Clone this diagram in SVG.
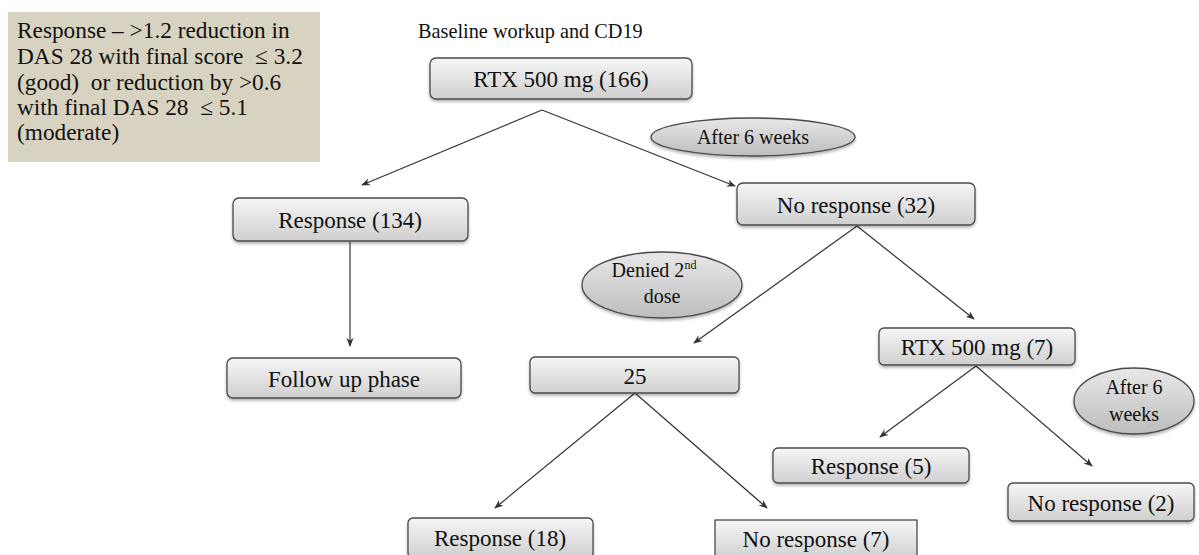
<svg xmlns="http://www.w3.org/2000/svg" width="1199" height="555" viewBox="0 0 1199 555">
<style>
  text { font-family: "Liberation Serif", "Times New Roman", serif; fill: #111; }
  .t { font-size: 23px; text-anchor: middle; dominant-baseline: central; }
  .lg { font-size: 23.3px; white-space: pre; }
  .box { fill: url(#gBox); stroke: #4a4a4a; stroke-width: 1.3; filter: url(#sh); }
  .ell { fill: url(#gEll); stroke: #4a4a4a; stroke-width: 1.3; filter: url(#sh); }
  .c { fill: none; stroke: #333; stroke-width: 1.2; marker-end: url(#ah); }
</style>
<defs>
  <linearGradient id="gBox" x1="0" y1="0" x2="0" y2="1">
    <stop offset="0" stop-color="#f6f6f6"/>
    <stop offset="1" stop-color="#cfcfcf"/>
  </linearGradient>
  <linearGradient id="gEll" x1="0" y1="0" x2="0" y2="1">
    <stop offset="0" stop-color="#e8e8e8"/>
    <stop offset="1" stop-color="#bdbdbd"/>
  </linearGradient>
  <filter id="sh" x="-10%" y="-20%" width="120%" height="150%">
    <feDropShadow dx="0" dy="2" stdDeviation="1.5" flood-color="#000" flood-opacity="0.3"/>
  </filter>
  <marker id="ah" viewBox="0 0 10 10" refX="9" refY="5" markerWidth="9" markerHeight="9" orient="auto" markerUnits="userSpaceOnUse">
    <path d="M0,1 L10,5 L0,9 L3,5 Z" fill="#333"/>
  </marker>
</defs>

<g id="legend">
  <rect x="8" y="12" width="312" height="150" fill="#d8d3c0"/>
  <text class="lg" x="17" y="38">Response – &gt;1.2 reduction in</text>
  <text class="lg" x="17" y="64">DAS 28 with final score  ≤ 3.2</text>
  <text class="lg" x="17" y="90">(good)  or reduction by &gt;0.6</text>
  <text class="lg" x="17" y="115">with final DAS 28  ≤ 5.1</text>
  <text class="lg" x="17" y="140">(moderate)</text>
</g>

<g id="title">
  <text x="418" y="38" style="font-size:20.3px">Baseline workup and CD19</text>
</g>

<g id="connectors">
  <polyline class="c" points="542,110 362,185"/>
  <polyline class="c" points="542,110 735,186"/>
  <line class="c" x1="350" y1="242" x2="350" y2="346"/>
  <polyline class="c" points="857,226 694,343"/>
  <polyline class="c" points="857,226 974,319"/>
  <polyline class="c" points="635,393 495,508"/>
  <polyline class="c" points="635,393 767,508"/>
  <polyline class="c" points="976,366 880,437"/>
  <polyline class="c" points="976,366 1092,466"/>
</g>

<g id="n-rtx166">
  <rect class="box" x="430" y="58" width="262" height="41" rx="6"/>
  <text class="t" x="561" y="79">RTX 500 mg (166)</text>
</g>
<g id="n-after6">
  <ellipse class="ell" cx="753" cy="137" rx="102" ry="19"/>
  <text class="t" x="753" y="137" style="font-size:20px">After 6 weeks</text>
</g>
<g id="n-resp134">
  <rect class="box" x="233" y="198" width="235" height="43" rx="6"/>
  <text class="t" x="350" y="220">Response (134)</text>
</g>
<g id="n-noresp32">
  <rect class="box" x="737" y="183" width="238" height="42" rx="6"/>
  <text class="t" x="856" y="205">No response (32)</text>
</g>
<g id="n-denied">
  <ellipse class="ell" cx="662" cy="285" rx="80" ry="33"/>
  <text x="654" y="277" style="font-size:20px;text-anchor:middle">Denied 2<tspan dy="-8" style="font-size:12px">nd</tspan></text>
  <text x="662" y="303" style="font-size:20px;text-anchor:middle">dose</text>
</g>
<g id="n-follow">
  <rect class="box" x="227" y="358" width="234" height="40" rx="6"/>
  <text class="t" x="344" y="379">Follow up phase</text>
</g>
<g id="n-25">
  <rect class="box" x="530" y="357" width="209" height="36" rx="5"/>
  <text class="t" x="635" y="376">25</text>
</g>
<g id="n-rtx7">
  <rect class="box" x="879" y="328" width="196" height="37" rx="5"/>
  <text class="t" x="977" y="347">RTX 500 mg (7)</text>
</g>
<g id="n-after6b">
  <ellipse class="ell" cx="1134" cy="401" rx="60" ry="33"/>
  <text x="1134" y="394" style="font-size:20px;text-anchor:middle">After 6</text>
  <text x="1134" y="421" style="font-size:20px;text-anchor:middle">weeks</text>
</g>
<g id="n-resp5">
  <rect class="box" x="773" y="448" width="196" height="35" rx="5"/>
  <text class="t" x="871" y="466">Response (5)</text>
</g>
<g id="n-noresp2">
  <rect class="box" x="1008" y="483" width="186" height="38" rx="5"/>
  <text class="t" x="1101" y="503">No response (2)</text>
</g>
<g id="n-resp18">
  <rect class="box" x="408" y="518" width="185" height="40" rx="5"/>
  <text class="t" x="500" y="538">Response (18)</text>
</g>
<g id="n-noresp7">
  <rect x="715" y="520" width="202" height="40" fill="url(#gBox)" stroke="#4a4a4a" stroke-width="1.3"/>
  <text class="t" x="816" y="539">No response (7)</text>
</g>
</svg>
